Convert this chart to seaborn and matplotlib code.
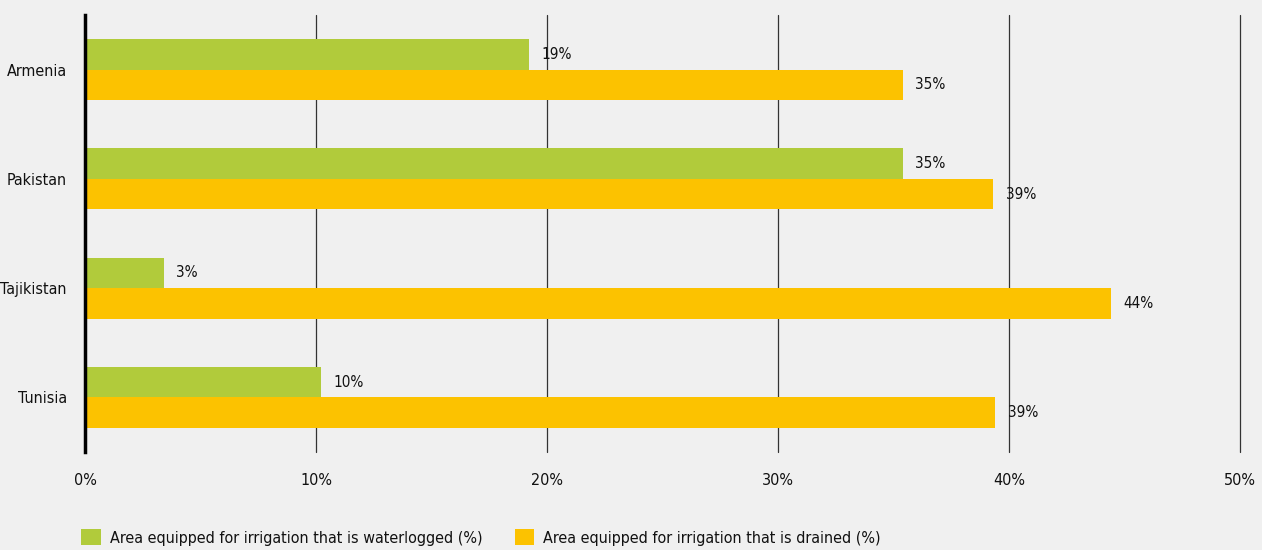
import matplotlib
matplotlib.use("Agg")
import matplotlib.pyplot as plt
import seaborn as sns
import pandas as pd
from matplotlib.patches import Patch

countries = ["Armenia", "Pakistan", "Tajikistan", "Tunisia"]
waterlogged = [19.2, 35.4, 3.4, 10.2]
drained = [35.4, 39.3, 44.4, 39.4]
series = ["Area equipped for irrigation that is waterlogged (%)",
          "Area equipped for irrigation that is drained (%)"]
xticks = [0, 10, 20, 30, 40, 50]

green = "#b1cb3b"
orange = "#fcc200"
bg = "#f0f0f0"

df = pd.DataFrame({
    "country": countries * 2,
    "value": waterlogged + drained,
    "series": [series[0]] * 4 + [series[1]] * 4,
})

sns.set_style("white")
plt.rcParams["font.family"] = ["DejaVu Sans"]
plt.rcParams["font.stretch"] = "condensed"

fig = plt.figure(figsize=(12.62, 5.5), dpi=100, facecolor=bg)
ax = fig.add_axes([85 / 1262, 1 - 452 / 550, (1240 - 85) / 1262, 437 / 550])
ax.set_facecolor(bg)

sns.barplot(data=df, y="country", x="value", hue="series", orient="h",
            palette=[green, orange], width=0.56, gap=0, saturation=1,
            linewidth=0, edgecolor="none", legend=False, ax=ax, zorder=3)

for xt in xticks[1:]:
    ax.axvline(xt, color="#333333", lw=0.9, zorder=1, clip_on=False)

ax.set_xlim(0, 50)
ax.set_ylim(3.5, -0.5)
ax.set_xticks(xticks)
ax.set_xticklabels([f"{t}%" for t in xticks], fontsize=11.5)
ax.tick_params(axis="x", length=0, pad=15, colors="#111111")
ax.tick_params(axis="y", length=0, pad=13, labelsize=11.5, colors="#111111")
ax.set_xlabel("")
ax.set_ylabel("")
for s in ["top", "right", "bottom"]:
    ax.spines[s].set_visible(False)
ax.spines["left"].set_linewidth(2.5)
ax.spines["left"].set_color("black")
ax.spines["left"].set_zorder(5)

for cont in ax.containers:
    for bar in cont:
        w = bar.get_width()
        ax.text(w + 0.55, bar.get_y() + bar.get_height() / 2, f"{round(w):.0f}%",
                va="center", ha="left", fontsize=11, color="#111111")

handles = [Patch(facecolor=green, edgecolor="none"), Patch(facecolor=orange, edgecolor="none")]
fig.legend(handles, series, loc="lower left", bbox_to_anchor=(67 / 1262, -0.018),
           ncol=2, frameon=False, fontsize=11.5, handlelength=1.2, handleheight=1.2,
           columnspacing=2.0, handletextpad=0.6, labelcolor="#111111")

fig.savefig("out.png", dpi=100, facecolor=bg)
